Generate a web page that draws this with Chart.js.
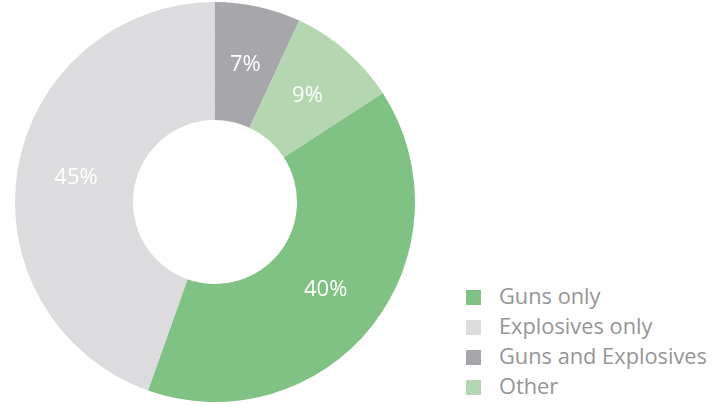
<!DOCTYPE html>
<html>
<head>
<meta charset="utf-8">
<script src="https://cdn.jsdelivr.net/npm/chart.js@4.4.0/dist/chart.umd.min.js"></script>
<style>
    html, body { margin: 0; padding: 0; background: #fff; }
    #wrap { position: relative; width: 728px; height: 405px; }
    #chartBox { position: absolute; left: 0; top: 0; width: 430px; height: 405px; }
    #legend { position: absolute; left: 466px; top: 281px; font-family: "Open Sans", "Noto Sans", sans-serif; font-size: 21.8px; color: #959595; }
    #legend div { height: 30px; line-height: 30px; white-space: nowrap; }
    #legend span { display: inline-block; width: 15px; height: 15px; margin-right: 18px; vertical-align: -1px; }
</style>
</head>
<body>
<div id="wrap">
    <div id="chartBox"><canvas id="donut"></canvas></div>
    <div id="legend"></div>
</div>
<script>
const labels = ["Guns only", "Explosives only", "Guns and Explosives", "Other"];
const shares = [40, 45, 7, 9];
const colors = ["#80c184", "#dcdcde", "#a7a7ab", "#b4d7b2"];

// percentage text in the middle of each ring segment
const sliceLabels = {
    id: "sliceLabels",
    afterDatasetsDraw(chart) {
        const ctx = chart.ctx;
        const meta = chart.getDatasetMeta(0);
        ctx.save();
        ctx.fillStyle = "#ffffff";
        ctx.font = '22px "Open Sans", "Noto Sans", sans-serif';
        ctx.textAlign = "center";
        ctx.textBaseline = "middle";
        meta.data.forEach((arc, i) => {
            const p = arc.tooltipPosition();
            ctx.fillText(shares[i] + "%", p.x, p.y);
        });
        ctx.restore();
    },
};

new Chart(document.getElementById("donut"), {
    type: "doughnut",
    data: {
        labels: labels,
        datasets: [{
            data: shares,
            backgroundColor: colors,
            borderWidth: 0,
        }],
    },
    options: {
        responsive: true,
        maintainAspectRatio: false,
        animation: false,
        rotation: 57,
        cutout: "41%",
        layout: { padding: { top: 2, bottom: 3 } },
        plugins: {
            legend: { display: false },
            tooltip: { enabled: false },
        },
    },
    plugins: [sliceLabels],
});

const legend = document.getElementById("legend");
labels.forEach((name, i) => {
    const row = document.createElement("div");
    const sw = document.createElement("span");
    sw.style.background = colors[i];
    row.appendChild(sw);
    row.appendChild(document.createTextNode(name));
    legend.appendChild(row);
});
</script>
</body>
</html>
